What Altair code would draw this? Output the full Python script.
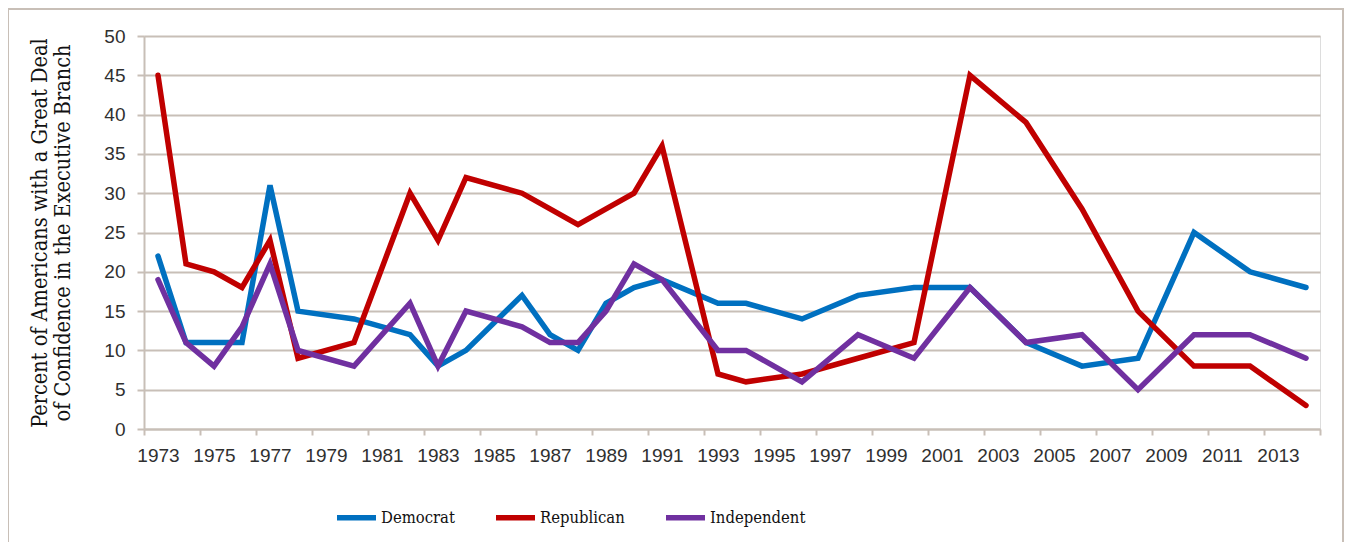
import altair as alt
import pandas as pd

years = [1973, 1974, 1975, 1976, 1977, 1978, 1980, 1982, 1983, 1984, 1986, 1987, 1988, 1989,
         1990, 1991, 1993, 1994, 1996, 1998, 2000, 2002, 2004, 2006, 2008, 2010, 2012, 2014]
democrat = [22, 11, 11, 11, 31, 15, 14, 12, 8, 10, 17, 12, 10, 16,
            18, 19, 16, 16, 14, 17, 18, 18, 11, 8, 9, 25, 20, 18]
republican = [45, 21, 20, 18, 24, 9, 11, 30, 24, 32, 30, 28, 26, 28,
              30, 36, 7, 6, 7, 9, 11, 45, 39, 28, 15, 8, 8, 3]
independent = [19, 11, 8, 13, 21, 10, 8, 16, 8, 15, 13, 11, 11, 15,
               21, 19, 10, 10, 6, 12, 9, 18, 11, 12, 5, 12, 12, 9]
series = ["Democrat", "Republican", "Independent"]
colors = ["#0070C0", "#C00000", "#7030A0"]
label_years = list(range(1973, 2014, 2))
tick_positions = [1972.5 + 2 * i for i in range(22)]
y_ticks = list(range(0, 51, 5))

rows = []
for name, vals in zip(series, [democrat, republican, independent]):
    for yr, v in zip(years, vals):
        rows.append({"Year": yr, "Value": v, "Party": name})
df = pd.DataFrame(rows)

GRID = "#C8BFB7"
TICKFONT = "Liberation Sans, sans-serif"
SERIF = "DejaVu Serif Condensed, DejaVu Serif, serif"

xscale = alt.Scale(domain=[1972.5, 2014.5], nice=False, zero=False)
yscale = alt.Scale(domain=[0, 50], nice=False)

lines = alt.Chart(df).mark_line(strokeWidth=5.5, strokeCap="round").encode(
    x=alt.X("Year:Q", scale=xscale,
            axis=alt.Axis(orient="bottom", values=label_years, format="d", ticks=False,
                          tickSize=0, grid=False, domain=False, labelPadding=17,
                          labelFont=TICKFONT, labelFontSize=19, labelColor="#303030",
                          title=None, labelFlush=False, labelOverlap=False)),
    y=alt.Y("Value:Q", scale=yscale,
            axis=alt.Axis(values=y_ticks, grid=True, gridColor=GRID, gridWidth=2,
                          domainColor=GRID, domainWidth=2, tickColor=GRID, tickWidth=2,
                          tickSize=7, labelPadding=12, labelFont=TICKFONT, labelFontSize=19,
                          labelColor="#303030", labelOverlap=False,
                          title=["Percent of Americans with a Great Deal",
                                 "of Confidence in the Executive Branch"],
                          titleFont=SERIF, titleFontSize=21.5, titleFontWeight="normal",
                          titleColor="#111111", titlePadding=29, titleLineHeight=23)),
    color=alt.Color("Party:N", scale=alt.Scale(domain=series, range=colors),
                    legend=alt.Legend(orient="none", direction="horizontal", title=None,
                                      legendX=190, legendY=459,
                                      symbolType="stroke", symbolSize=1521,
                                      symbolStrokeWidth=5.5, columnPadding=30,
                                      labelOffset=2, labelFont=SERIF, labelFontSize=16.5,
                                      labelColor="#111111")),
    order=alt.Order("Year:Q"),
)

tick_layer = alt.Chart(df).mark_point(opacity=0).encode(
    x=alt.X("Year:Q", scale=xscale,
            axis=alt.Axis(orient="bottom", values=tick_positions, labels=False, grid=False,
                          ticks=True, tickSize=6, tickColor=GRID, tickWidth=2,
                          domain=True, domainColor=GRID, domainWidth=2, title=None)),
)

frame = alt.Chart(alt.Data(values=[{"a": 1}])).mark_rect(
    fill=None, stroke=GRID, strokeWidth=2, clip=False
).encode(
    x=alt.value(-136), x2=alt.value(1199), y=alt.value(-27), y2=alt.value(560)
)

chart = alt.layer(frame, tick_layer, lines).resolve_axis(x="independent").properties(
    width=1176, height=393,
    padding={"left": 136, "top": 28, "right": 24, "bottom": 113},
    autosize=alt.AutoSizeParams(type="none"),
).configure_view(stroke=GRID, strokeWidth=2).configure(background="white")

chart.save("out.html", embed_options={"renderer": "svg", "actions": False})
